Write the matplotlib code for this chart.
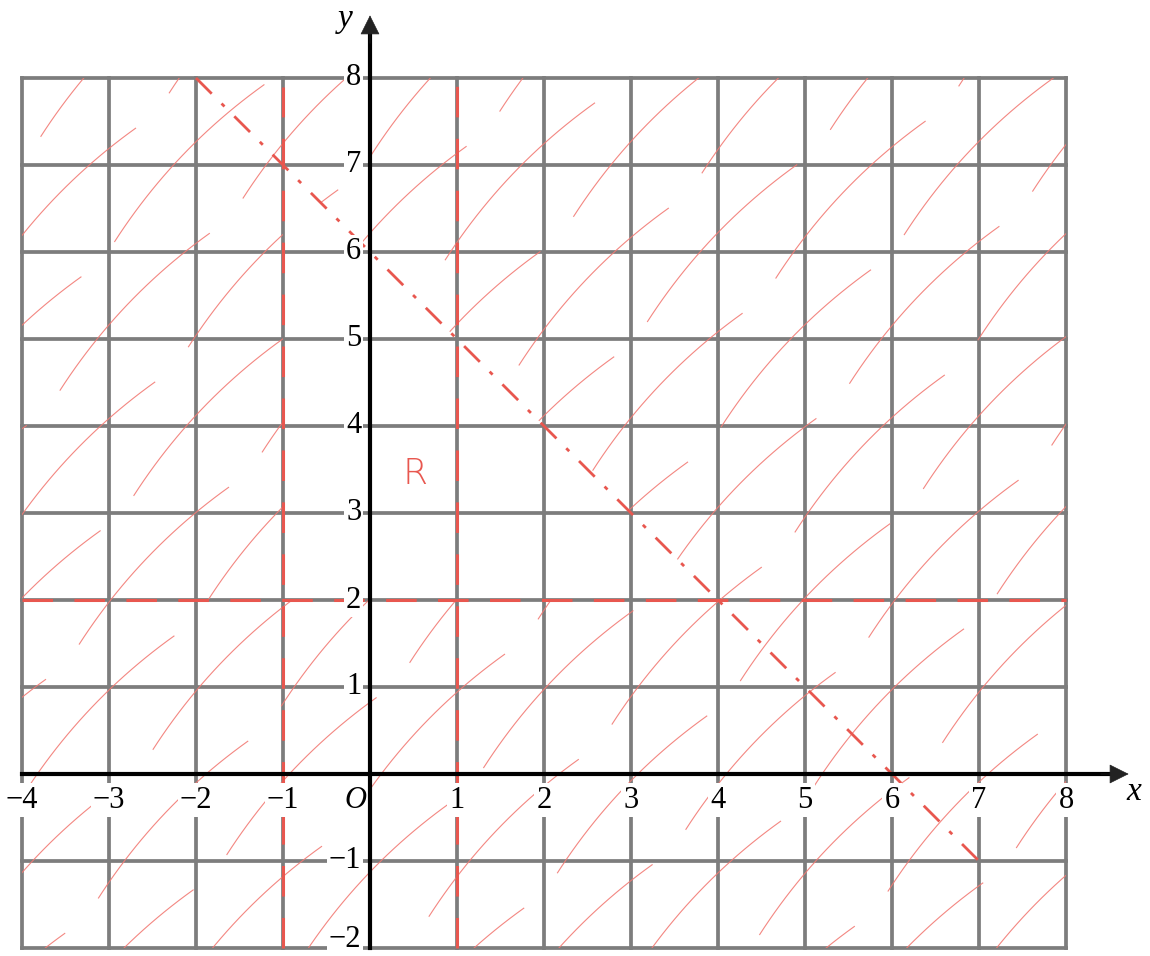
import numpy as np
import matplotlib
matplotlib.use("Agg")
import matplotlib.pyplot as plt
from matplotlib.path import Path
from matplotlib.collections import LineCollection

# ---- data ----
x_ticks = [-4, -3, -2, -1, 1, 2, 3, 4, 5, 6, 7, 8]
y_ticks = [-2, -1, 1, 2, 3, 4, 5, 6, 7, 8]
x_min, x_max = -4, 8
y_min, y_max = -2, 8
vert_line_a = -1          # x = -1
vert_line_b = 1           # x = 1
horiz_line = 2            # y = 2
diag_sum = 6              # x + y = 6
diag_x_range = [-2, 7]
region_label = "R"
region_label_pos = (0.52, 3.45)

red = "#e8574f"
hatch_red = "#f27a74"
grid_gray = "#7d7d7d"

fig = plt.figure(figsize=(11.5, 9.56), dpi=100)
ax = fig.add_axes([0, 0, 1, 1])
ax.set_xlim(-4 - 22 / 87, -4 + (1150 - 22) / 87)
ax.set_ylim(-2 - 8 / 87, 8 + 78 / 87)
ax.axis("off")

# ---- grid ----
for gx in range(x_min, x_max + 1):
    ax.plot([gx, gx], [y_min, y_max], color=grid_gray, lw=2.7, zorder=2,
            solid_capstyle="projecting")
for gy in range(y_min, y_max + 1):
    ax.plot([x_min, x_max], [gy, gy], color=grid_gray, lw=2.7, zorder=2,
            solid_capstyle="projecting")

# ---- hatching outside region R ----
tri = [(vert_line_a, horiz_line),
       (diag_sum - horiz_line, horiz_line),
       (vert_line_a, diag_sum - vert_line_a)]
verts = [(x_min, y_min), (x_max, y_min), (x_max, y_max), (x_min, y_max), (x_min, y_min)]
codes = [Path.MOVETO, Path.LINETO, Path.LINETO, Path.LINETO, Path.CLOSEPOLY]
tri_cw = [tri[0], tri[2], tri[1], tri[0]]
verts += tri_cw
codes += [Path.MOVETO, Path.LINETO, Path.LINETO, Path.CLOSEPOLY]
clip_path = Path(verts, codes)

segs = []
d = np.array([1.0, 1.05]); d /= np.linalg.norm(d)
perp = np.array([-d[1], d[0]])
L, gap = 2.5, 0.55
for i, c in enumerate(np.arange(-16, 16, 1.05)):
    base = np.array([0.0, c])
    phase = (i * 0.91) % (L + gap)
    for u0 in np.arange(-20 + phase, 20, L + gap):
        s = np.linspace(0, L, 25)
        bend = 0.12 * 4 * s * (L - s) / L ** 2
        pts = base + np.outer(u0 + s, d) + np.outer(bend, perp)
        if pts[:, 0].max() < x_min - 1 or pts[:, 0].min() > x_max + 1:
            continue
        if pts[:, 1].max() < y_min - 1 or pts[:, 1].min() > y_max + 1:
            continue
        segs.append(pts)
lc = LineCollection(segs, colors=hatch_red, linewidths=0.8, alpha=0.9, zorder=3)
ax.add_collection(lc)
lc.set_clip_path(clip_path, ax.transData)

# ---- boundary lines ----
dash = (0, (10, 7))
ax.plot([vert_line_a, vert_line_a], [y_min, y_max - 0.1], color=red, lw=2.2,
        ls=dash, zorder=4)
ax.plot([vert_line_b, vert_line_b], [y_min, y_max + 0.05], color=red, lw=2.2,
        ls=dash, zorder=4)
ax.plot([x_min, x_max], [horiz_line, horiz_line], color=red, lw=2.2,
        ls=dash, zorder=4)
dx = np.array(diag_x_range, dtype=float)
ax.plot(dx, diag_sum - dx, color=red, lw=2.0, ls=(0, (8, 5, 1.5, 5)), zorder=4)

# ---- axes ----
ax.plot([x_min, 8.55], [0, 0], color="black", lw=3.0, zorder=6)
ax.plot([0, 0], [y_min, 8.55], color="black", lw=3.0, zorder=6)
ax.annotate("", xy=(8.72, 0), xytext=(8.4, 0),
            arrowprops=dict(arrowstyle="-|>", color="#222222", lw=0.5,
                            mutation_scale=32, shrinkA=0, shrinkB=0), zorder=7)
ax.annotate("", xy=(0, 8.72), xytext=(0, 8.4),
            arrowprops=dict(arrowstyle="-|>", color="#222222", lw=0.5,
                            mutation_scale=32, shrinkA=0, shrinkB=0), zorder=7)

font = dict(family="Liberation Serif", fontsize=22, color="black")
bbox = dict(facecolor="white", edgecolor="none", pad=1.5)
for t in x_ticks:
    ax.text(t, -0.3, f"\u2212{abs(t)}" if t < 0 else str(t), ha="center",
            va="center", bbox=bbox, zorder=5, **font)
for t in y_ticks:
    ty = t + 0.1 if t == y_min else t
    ax.text(-0.1, ty, f"\u2212{abs(t)}" if t < 0 else str(t), ha="right",
            va="center", bbox=bbox, zorder=5, **font)
ax.text(-0.17, -0.3, "O", ha="center", va="center", style="italic",
        bbox=bbox, zorder=5, **font)
ax.text(8.78, -0.2, "x", ha="center", va="center", style="italic",
        family="Liberation Serif", fontsize=24)
ax.text(-0.28, 8.68, "y", ha="center", va="center", style="italic",
        family="Liberation Serif", fontsize=24)

ax.text(*region_label_pos, region_label, color=red, fontsize=26,
        family="DejaVu Sans", fontweight="light", ha="center", va="center",
        zorder=5)

fig.savefig("out.png", dpi=100)
